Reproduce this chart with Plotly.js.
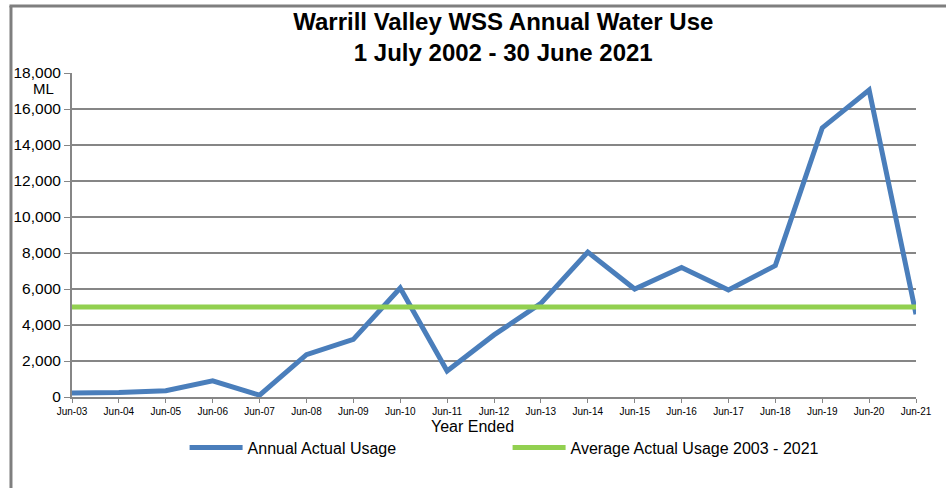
<!DOCTYPE html>
<html>
<head>
<meta charset="utf-8">
<script src="https://cdn.plot.ly/plotly-3.0.1.min.js"></script>
<style>html,body{margin:0;padding:0;background:#fff;}#chart{width:946px;height:488px;}</style>
</head>
<body>
<div id="chart"></div>
<script>
var years = ["Jun-03","Jun-04","Jun-05","Jun-06","Jun-07","Jun-08","Jun-09","Jun-10","Jun-11","Jun-12","Jun-13","Jun-14","Jun-15","Jun-16","Jun-17","Jun-18","Jun-19","Jun-20","Jun-21"];
var annualUsage = [220, 250, 350, 900, 100, 2350, 3200, 6050, 1450, 3450, 5200, 8050, 6000, 7200, 5950, 7300, 14950, 17050, 4600];
var averageUsage = 5000;
var averageX = ["Jun-03", "Jun-21"];
var averageY = [averageUsage, averageUsage];
var yTicks = [0, 2000, 4000, 6000, 8000, 10000, 12000, 14000, 16000, 18000];

var font = "Liberation Sans, Arial, sans-serif";
var traces = [
  {x: years, y: annualUsage, type: "scatter", mode: "lines", name: "Annual Actual Usage",
   line: {color: "#4A7EBB", width: 5}},
  {x: averageX, y: averageY, type: "scatter", mode: "lines", name: "Average Actual Usage 2003 - 2021",
   line: {color: "#92D050", width: 5}}
];
var layout = {
  width: 946, height: 488,
  margin: {l: 72, r: 30, t: 73, b: 91},
  paper_bgcolor: "#fff", plot_bgcolor: "#fff",
  font: {family: font, color: "#000"},
  title: {text: "<b>Warrill Valley WSS Annual Water Use<br>1 July 2002 - 30 June 2021</b>",
          font: {size: 24, family: font, color: "#000"},
          x: 0.511, xref: "paper", xanchor: "center", yref: "container", y: 0.939, yanchor: "middle"},
  xaxis: {type: "category", categoryorder: "array", categoryarray: years, range: [0, 18],
          showgrid: false, showline: true, linecolor: "#868686", linewidth: 2,
          ticks: "outside", ticklen: 4, tickcolor: "#868686", tickwidth: 1,
          tickfont: {size: 10, family: font}, tickangle: 0},
  yaxis: {range: [0, 18000], tickvals: yTicks, tickformat: ",d", separatethousands: true,
          showgrid: true, gridcolor: "#868686", gridwidth: 1.5,
          showline: true, linecolor: "#868686", linewidth: 2,
          ticks: "outside", ticklen: 6, tickcolor: "#868686",
          tickfont: {size: 15.5, family: font}, zeroline: false},
  showlegend: true,
  legend: {orientation: "h", x: 0.1334, xanchor: "left", y: -0.104, yanchor: "top",
           font: {size: 16, family: font}, entrywidth: 255, entrywidthmode: "pixels",
           itemwidth: 53, bgcolor: "rgba(0,0,0,0)"},
  annotations: [
    {text: "ML", xref: "paper", yref: "paper", x: -0.034, y: 0.951,
     xanchor: "center", yanchor: "middle", showarrow: false, font: {size: 15, family: font}},
    {text: "Year Ended", xref: "paper", yref: "paper", x: 0.475, y: -0.09,
     xanchor: "center", yanchor: "middle", showarrow: false, font: {size: 16, family: font}}
  ],
  shapes: [
    {type: "line", xref: "paper", yref: "paper", x0: -0.0723, x1: -0.0723, y0: 1.207, y1: -0.3,
     line: {color: "#7f7f7f", width: 3}},
    {type: "line", xref: "paper", yref: "paper", x0: -0.0741, x1: 1.1, y0: 1.207, y1: 1.207,
     line: {color: "#7f7f7f", width: 3}}
  ]
};
Plotly.newPlot("chart", traces, layout, {displayModeBar: false, staticPlot: true});
</script>
</body>
</html>
